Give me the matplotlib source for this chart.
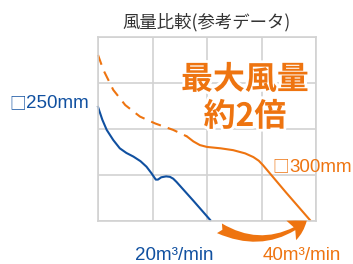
import matplotlib
matplotlib.use("Agg")
import matplotlib.pyplot as plt
from matplotlib.patches import FancyArrowPatch
import matplotlib.patheffects as pe

plt.rcParams['font.family'] = ['Noto Sans CJK JP', 'DejaVu Sans']

# curve (grid units, 4 x 4 cells)
blue_x = [0.0, 0.08, 0.16, 0.28, 0.40, 0.52, 0.65, 0.78, 0.89, 0.98, 1.06, 1.10, 1.16, 1.25, 1.32, 1.38, 1.44, 1.75, 2.06]
blue_y = [2.48, 2.20, 1.98, 1.76, 1.58, 1.48, 1.40, 1.30, 1.18, 1.04, 0.90, 0.90, 0.95, 0.97, 0.96, 0.92, 0.85, 0.44, 0.02]

dash_x = [0.0, 0.10, 0.28, 0.50, 0.77, 1.05, 1.38, 1.63]
dash_y = [3.61, 3.28, 2.85, 2.52, 2.27, 2.12, 1.98, 1.84]
solid_x = [1.63, 1.75, 1.87, 2.00, 2.25, 2.48, 2.70, 2.85, 2.95, 3.03, 3.45, 3.89]
solid_y = [1.84, 1.73, 1.65, 1.61, 1.58, 1.54, 1.47, 1.39, 1.31, 1.21, 0.62, 0.02]

blue = '#1050a0'
orange = '#ee7410'
grid_c = '#d2d2d2'
latin = ['Liberation Sans', 'Noto Sans CJK JP']

fig = plt.figure(figsize=(3.53, 2.64), dpi=100)
ax = fig.add_axes([98/353, 43/264, 218/353, 184/264])
ax.set_xlim(0, 4)
ax.set_ylim(0, 4)
ax.set_xticks([0, 1, 2, 3, 4])
ax.set_yticks([0, 1, 2, 3, 4])
ax.tick_params(length=0, labelbottom=False, labelleft=False)
ax.grid(True, color=grid_c, linewidth=1.2)
for s in ax.spines.values():
    s.set_color(grid_c)
    s.set_linewidth(1.2)

ax.plot(blue_x, blue_y, color=blue, lw=1.5, clip_on=False)
ax.plot(dash_x, dash_y, color=orange, lw=1.5, ls=(0, (5, 3.5)), clip_on=False)
ax.plot(solid_x, solid_y, color=orange, lw=1.5, clip_on=False)

def fx(px):
    return px / 353

def fy(py):
    return 1 - py / 264

fig.text(fx(207), fy(22), '風量比較(参考データ)', ha='center', va='center',
         fontsize=12.5, color='#333333')

# size labels: the box sign is drawn on its own so it gets the wide CJK glyph
fig.text(fx(18), fy(104), '□', ha='center', va='center', fontsize=12,
         color=blue, family='Noto Sans CJK JP')
fig.text(fx(26), fy(104), '250mm', ha='left', va='center', fontsize=13.5,
         color=blue, family=latin)
fig.text(fx(281), fy(167), '□', ha='center', va='center', fontsize=12,
         color=orange, family='Noto Sans CJK JP')
fig.text(fx(289), fy(167), '300mm', ha='left', va='center', fontsize=13.5,
         color=orange, family=latin)

fig.text(fx(135), fy(260), '20m³/min', ha='left', va='baseline', fontsize=13.5,
         color=blue, family=latin)
fig.text(fx(263), fy(260), '40m³/min', ha='left', va='baseline', fontsize=13.5,
         color=orange, family=latin)

stroke = [pe.withStroke(linewidth=4, foreground='white')]
fig.text(fx(245), fy(80), '最大風量', ha='center', va='center', fontsize=23,
         fontweight='bold', color=orange, path_effects=stroke)
fig.text(fx(245), fy(117), '約2倍', ha='center', va='center', fontsize=23,
         fontweight='bold', color=orange, path_effects=stroke)

arrow = FancyArrowPatch((fx(217), fy(227)), (fx(309), fy(219)),
                        transform=fig.transFigure,
                        connectionstyle='arc3,rad=0.33',
                        arrowstyle='fancy,head_length=1.1,head_width=1.3,tail_width=0.65',
                        mutation_scale=12, color=orange, lw=0)
fig.patches.append(arrow)

fig.savefig('out.png', dpi=100)
